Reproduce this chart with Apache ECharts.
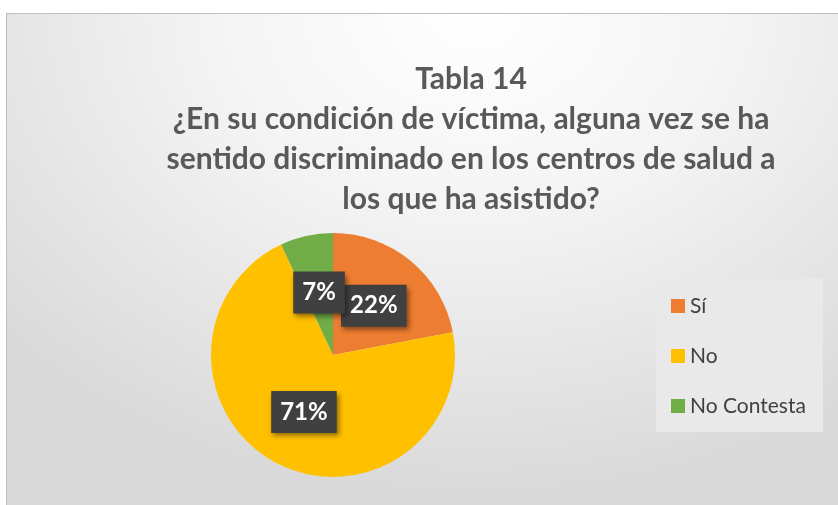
<!DOCTYPE html>
<html>
<head>
<meta charset="utf-8">
<script src="https://cdn.jsdelivr.net/npm/echarts@6/dist/echarts.min.js"></script>
<style>
  html, body { margin: 0; padding: 0; overflow: hidden; background: #fff; }
  #frame {
    position: absolute; left: 6px; top: 13px; width: 850px; height: 510px;
    border: 1px solid #bfbfbf;
    background: radial-gradient(ellipse 75% 95% at 55% 0%, #ffffff 0%, #f4f4f4 40%, #d9d9d9 100%);
  }
  #chart { position: absolute; left: 0; top: 0; width: 838px; height: 505px; }
</style>
</head>
<body>
<div id="frame"></div>
<div id="chart"></div>
<script>
// datos de la tabla 14
const titulo = 'Tabla 14\n¿En su condición de víctima, alguna vez se ha\nsentido discriminado en los centros de salud a\nlos que ha asistido?'
const categorias = ['Sí', 'No', 'No Contesta']
const porcentajes = [22, 71, 7]
const colores = ['#ED7D31', '#FFC000', '#70AD47']

const myChart = echarts.init(document.getElementById('chart'))

const option = {
  animation: false,
  backgroundColor: 'transparent',
  title: {
    text: titulo,
    left: 466,
    top: 54,
    textAlign: 'center',
    textStyle: {
      fontFamily: 'Lato',
      fontSize: 30,
      fontWeight: 'bold',
      lineHeight: 40,
      color: '#595959'
    }
  },
  legend: {
    orient: 'vertical',
    left: 656,
    top: 279,
    backgroundColor: '#e9e9e9',
    padding: [16, 17, 15, 15],
    itemGap: 28,
    icon: 'rect',
    itemWidth: 14,
    itemHeight: 14,
    itemStyle: { borderWidth: 0 },
    textStyle: {
      fontFamily: 'Lato',
      fontSize: 21,
      color: '#404040',
      lineHeight: 22
    },
    data: categorias
  },
  series: [{
    type: 'pie',
    center: [333, 355],
    radius: 122,
    startAngle: 90,
    clockwise: true,
    avoidLabelOverlap: false,
    labelLayout: { hideOverlap: false },
    label: {
      show: true,
      position: 'inside',
      formatter: '{c}%',
      fontFamily: 'Lato',
      fontSize: 24,
      fontWeight: 'bold',
      lineHeight: 24,
      color: '#ffffff',
      backgroundColor: '#404040',
      padding: [9, 9],
      shadowBlur: 5,
      shadowOffsetX: 2,
      shadowOffsetY: 3,
      shadowColor: 'rgba(0,0,0,0.45)'
    },
    labelLine: { show: false },
    itemStyle: { borderWidth: 0 },
    emphasis: { disabled: true },
    data: categorias.map((nombre, i) => ({
      name: nombre,
      value: porcentajes[i],
      itemStyle: { color: colores[i] }
    }))
  }]
}

myChart.setOption(option)
</script>
</body>
</html>
